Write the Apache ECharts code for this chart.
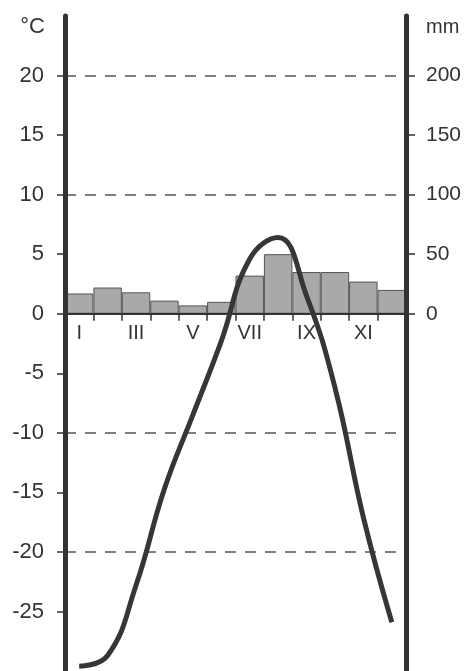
<!DOCTYPE html>
<html>
<head>
<meta charset="utf-8">
<script src="https://cdn.jsdelivr.net/npm/echarts@6/dist/echarts.min.js"></script>
<style>
html,body{margin:0;padding:0;background:#fff;}
#chart{width:464px;height:671px;}
</style>
</head>
<body>
<div id="chart"></div>
<script>
var months = ['I','II','III','IV','V','VI','VII','VIII','IX','X','XI','XII'];
var temperature = [-29.6, -28.7, -22.8, -14.7, -8.5, -2.3, 4.6, 6.4, 1.5, -6.2, -17.1, -25.9];
var precipitation = [17, 22, 18, 11, 7, 10, 32, 50, 35, 35, 27, 20];
var tempTicks = [-25, -20, -15, -10, -5, 0, 5, 10, 15, 20];
var precTicks = [0, 50, 100, 150, 200];

var T_MIN = -30, T_MAX = 25;
var GRID_TOP = 16, GRID_BOTTOM = 0, H = 671;
var gridH = H - GRID_TOP - GRID_BOTTOM;
var zeroOffset = -gridH * (0 - T_MIN) / (T_MAX - T_MIN);

var FONT = 'Liberation Sans';
var INK = '#333';
var T = 'rgba(0,0,0,0)';
var chart = echarts.init(document.getElementById('chart'), null, {renderer: 'canvas'});
chart.setOption({
  animation: false,
  backgroundColor: '#fff',
  grid: {left: 65, right: 58, top: GRID_TOP, bottom: GRID_BOTTOM, containLabel: false, outerBoundsMode: 'none'},
  xAxis: {
    type: 'category',
    data: months,
    boundaryGap: true,
    position: 'bottom',
    offset: zeroOffset,
    axisLine: {show: true, onZero: false, lineStyle: {color: INK, width: 2}},
    axisTick: {show: true, interval: 0, length: 7, lineStyle: {color: INK, width: 1.5}},
    axisLabel: {interval: 1, color: INK, fontFamily: FONT, fontSize: 20, margin: 10},
    splitLine: {show: false},
    z: 5
  },
  yAxis: [
    {
      type: 'value', position: 'left', min: T_MIN, max: T_MAX, interval: 5,
      name: '°C', nameLocation: 'end', nameGap: -11,
      nameTextStyle: {color: INK, fontFamily: FONT, fontSize: 22, align: 'right', verticalAlign: 'middle', padding: [0, 20, 0, 0]},
      axisLine: {show: true, onZero: false, lineStyle: {color: INK, width: 5}},
      axisTick: {show: true, length: 8, customValues: tempTicks, lineStyle: {color: INK, width: 1.5}},
      axisLabel: {customValues: tempTicks, color: INK, fontFamily: FONT, fontSize: 22, margin: 21},
      splitLine: {show: false},
      z: 6
    },
    {
      type: 'value', position: 'right', min: -300, max: 250, interval: 50,
      name: 'mm', nameLocation: 'end', nameGap: -11,
      nameTextStyle: {color: INK, fontFamily: FONT, fontSize: 20, align: 'left', verticalAlign: 'middle', padding: [0, 0, 0, 20]},
      axisLine: {show: true, onZero: false, lineStyle: {color: INK, width: 5}},
      axisTick: {show: true, length: 9, customValues: precTicks, lineStyle: {color: INK, width: 1.5}},
      axisLabel: {customValues: precTicks, color: INK, fontFamily: FONT, fontSize: 21, margin: 20},
      splitLine: {show: false},
      z: 6
    },
    {
      type: 'value', position: 'left', min: T_MIN, max: T_MAX, interval: 10,
      axisLine: {show: false}, axisTick: {show: false}, axisLabel: {show: false},
      splitLine: {show: true, lineStyle: {color: [T, '#555', '#555', T, '#555', '#555', T], width: 1.5, type: [11, 9], dashOffset: 0}}
    }
  ],
  series: [
    {
      type: 'bar', name: 'mm', yAxisIndex: 1, data: precipitation,
      barCategoryGap: '0%',
      itemStyle: {color: '#a9a9a9', borderColor: '#555', borderWidth: 1},
      z: 2
    },
    {
      type: 'line', name: '°C', yAxisIndex: 0, data: temperature,
      smooth: 0.45, symbol: 'none',
      lineStyle: {color: '#363636', width: 5},
      z: 10
    }
  ]
});
</script>
</body>
</html>
